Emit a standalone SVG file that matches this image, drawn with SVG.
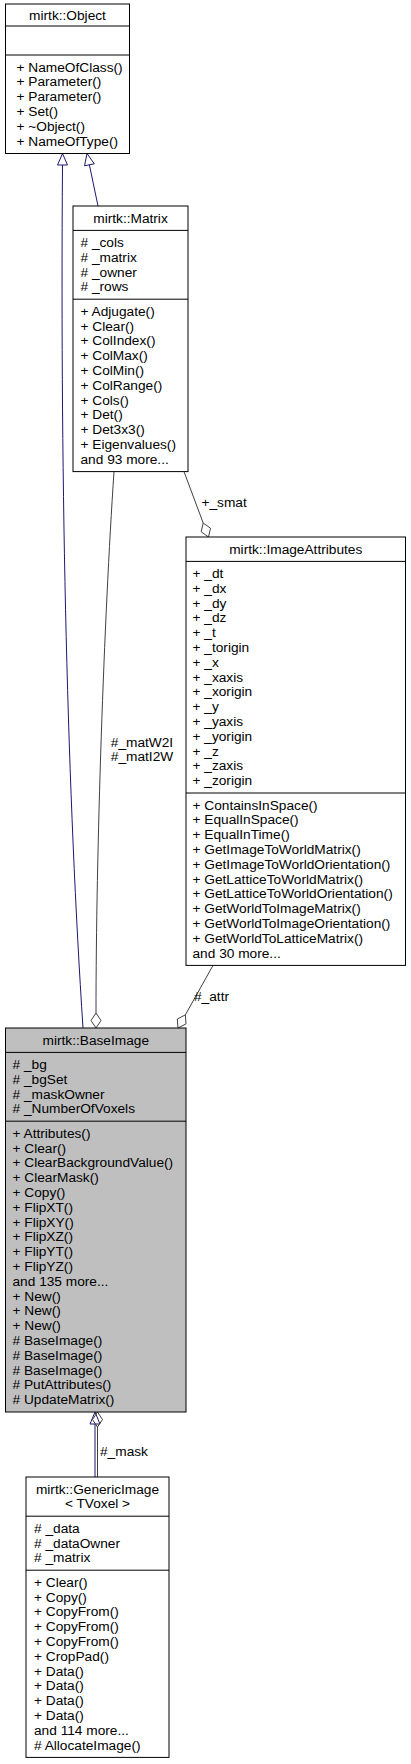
<svg xmlns="http://www.w3.org/2000/svg" width="411" height="1764" viewBox="0 0 411 1764">
<style>
.box{fill:#fff;stroke:#000;stroke-width:1}
.gray{fill:#bfbfbf}
.sep{stroke:#000;stroke-width:1}
.t{font-family:"Liberation Sans",Arial,Helvetica,sans-serif;font-size:13.7px;fill:#000}
.c{text-anchor:middle}
.inh{stroke:#191970;stroke-width:1;fill:none}
.agg{stroke:#404040;stroke-width:1;fill:none}
</style>
<rect width="411" height="1764" fill="#fff"/>
<g id="connectors">
  <path class="inh" d="M83,1028 C68,800 60,500 62.5,165"/>
  <polygon class="inh" points="62.5,153.5 67.5,165 57.5,165"/>
  <path class="inh" d="M98,206 L89.4,164.8"/>
  <polygon class="inh" points="87,153.5 94.3,163.8 84.5,165.8"/>
  <path class="agg" d="M114,471.6 C104,620 96,850 96,1013"/>
  <polygon class="agg" points="96,1028 101,1020.5 96,1013 91,1020.5"/>
  <text class="t c" x="142" y="747">#_matW2I</text>
  <text class="t c" x="142" y="761">#_matI2W</text>
  <path class="agg" d="M184,471.6 L203.2,523"/>
  <polygon class="agg" points="208.5,537 210.5,528.2 203.2,523 201.2,531.8"/>
  <text class="t" x="201.5" y="507">+_smat</text>
  <path class="agg" d="M213,965.4 L185.35,1014.9"/>
  <polygon class="agg" points="178,1028 186,1023.9 185.35,1014.9 177.3,1019"/>
  <text class="t" x="194" y="1001">#_attr</text>
  <path class="inh" d="M95,1477 L95,1424"/>
  <polygon class="inh" points="95,1412 100,1424 90,1424"/>
  <path class="agg" d="M97.5,1477 L97.5,1427"/>
  <polygon class="agg" points="97.5,1412 102.5,1419.5 97.5,1427 92.5,1419.5"/>
  <text class="t" x="100" y="1456">#_mask</text>
</g>
<g id="Object">
  <rect class="box" x="5.5" y="4" width="124" height="149.5"/>
  <line class="sep" x1="5.5" y1="26" x2="129.5" y2="26"/>
  <line class="sep" x1="5.5" y1="55" x2="129.5" y2="55"/>
  <text class="t c" x="67.5" y="20">mirtk::Object</text>
  <text class="t" x="16.5" y="71.5"><tspan x="16.5">+ NameOfClass()</tspan><tspan x="16.5" dy="14.8">+ Parameter()</tspan><tspan x="16.5" dy="14.8">+ Parameter()</tspan><tspan x="16.5" dy="14.8">+ Set()</tspan><tspan x="16.5" dy="14.8">+ ~Object()</tspan><tspan x="16.5" dy="14.8">+ NameOfType()</tspan></text>
</g>
<g id="Matrix">
  <rect class="box" x="73" y="206" width="115" height="265.6"/>
  <line class="sep" x1="73" y1="230.4" x2="188" y2="230.4"/>
  <line class="sep" x1="73" y1="299.2" x2="188" y2="299.2"/>
  <text class="t c" x="130.5" y="222.5">mirtk::Matrix</text>
  <text class="t" x="80.5" y="246.9"><tspan x="80.5"># _cols</tspan><tspan x="80.5" dy="14.8"># _matrix</tspan><tspan x="80.5" dy="14.8"># _owner</tspan><tspan x="80.5" dy="14.8"># _rows</tspan></text>
  <text class="t" x="80.5" y="315.7"><tspan x="80.5">+ Adjugate()</tspan><tspan x="80.5" dy="14.8">+ Clear()</tspan><tspan x="80.5" dy="14.8">+ ColIndex()</tspan><tspan x="80.5" dy="14.8">+ ColMax()</tspan><tspan x="80.5" dy="14.8">+ ColMin()</tspan><tspan x="80.5" dy="14.8">+ ColRange()</tspan><tspan x="80.5" dy="14.8">+ Cols()</tspan><tspan x="80.5" dy="14.8">+ Det()</tspan><tspan x="80.5" dy="14.8">+ Det3x3()</tspan><tspan x="80.5" dy="14.8">+ Eigenvalues()</tspan><tspan x="80.5" dy="14.8">and 93 more...</tspan></text>
</g>
<g id="ImageAttributes">
  <rect class="box" x="186" y="537" width="219.5" height="428.4"/>
  <line class="sep" x1="186" y1="561.4" x2="405.5" y2="561.4"/>
  <line class="sep" x1="186" y1="793" x2="405.5" y2="793"/>
  <text class="t c" x="295.75" y="553.5">mirtk::ImageAttributes</text>
  <text class="t" x="192.5" y="577.9"><tspan x="192.5">+ _dt</tspan><tspan x="192.5" dy="14.8">+ _dx</tspan><tspan x="192.5" dy="14.8">+ _dy</tspan><tspan x="192.5" dy="14.8">+ _dz</tspan><tspan x="192.5" dy="14.8">+ _t</tspan><tspan x="192.5" dy="14.8">+ _torigin</tspan><tspan x="192.5" dy="14.8">+ _x</tspan><tspan x="192.5" dy="14.8">+ _xaxis</tspan><tspan x="192.5" dy="14.8">+ _xorigin</tspan><tspan x="192.5" dy="14.8">+ _y</tspan><tspan x="192.5" dy="14.8">+ _yaxis</tspan><tspan x="192.5" dy="14.8">+ _yorigin</tspan><tspan x="192.5" dy="14.8">+ _z</tspan><tspan x="192.5" dy="14.8">+ _zaxis</tspan><tspan x="192.5" dy="14.8">+ _zorigin</tspan></text>
  <text class="t" x="192.5" y="809.5"><tspan x="192.5">+ ContainsInSpace()</tspan><tspan x="192.5" dy="14.8">+ EqualInSpace()</tspan><tspan x="192.5" dy="14.8">+ EqualInTime()</tspan><tspan x="192.5" dy="14.8">+ GetImageToWorldMatrix()</tspan><tspan x="192.5" dy="14.8">+ GetImageToWorldOrientation()</tspan><tspan x="192.5" dy="14.8">+ GetLatticeToWorldMatrix()</tspan><tspan x="192.5" dy="14.8">+ GetLatticeToWorldOrientation()</tspan><tspan x="192.5" dy="14.8">+ GetWorldToImageMatrix()</tspan><tspan x="192.5" dy="14.8">+ GetWorldToImageOrientation()</tspan><tspan x="192.5" dy="14.8">+ GetWorldToLatticeMatrix()</tspan><tspan x="192.5" dy="14.8">and 30 more...</tspan></text>
</g>
<g id="BaseImage">
  <rect class="box gray" x="5.5" y="1028" width="180.5" height="384"/>
  <line class="sep" x1="5.5" y1="1052.4" x2="186" y2="1052.4"/>
  <line class="sep" x1="5.5" y1="1121.2" x2="186" y2="1121.2"/>
  <text class="t c" x="95.75" y="1044.5">mirtk::BaseImage</text>
  <text class="t" x="12.5" y="1068.9"><tspan x="12.5"># _bg</tspan><tspan x="12.5" dy="14.8"># _bgSet</tspan><tspan x="12.5" dy="14.8"># _maskOwner</tspan><tspan x="12.5" dy="14.8"># _NumberOfVoxels</tspan></text>
  <text class="t" x="12.5" y="1137.7"><tspan x="12.5">+ Attributes()</tspan><tspan x="12.5" dy="14.8">+ Clear()</tspan><tspan x="12.5" dy="14.8">+ ClearBackgroundValue()</tspan><tspan x="12.5" dy="14.8">+ ClearMask()</tspan><tspan x="12.5" dy="14.8">+ Copy()</tspan><tspan x="12.5" dy="14.8">+ FlipXT()</tspan><tspan x="12.5" dy="14.8">+ FlipXY()</tspan><tspan x="12.5" dy="14.8">+ FlipXZ()</tspan><tspan x="12.5" dy="14.8">+ FlipYT()</tspan><tspan x="12.5" dy="14.8">+ FlipYZ()</tspan><tspan x="12.5" dy="14.8">and 135 more...</tspan><tspan x="12.5" dy="14.8">+ New()</tspan><tspan x="12.5" dy="14.8">+ New()</tspan><tspan x="12.5" dy="14.8">+ New()</tspan><tspan x="12.5" dy="14.8"># BaseImage()</tspan><tspan x="12.5" dy="14.8"># BaseImage()</tspan><tspan x="12.5" dy="14.8"># BaseImage()</tspan><tspan x="12.5" dy="14.8"># PutAttributes()</tspan><tspan x="12.5" dy="14.8"># UpdateMatrix()</tspan></text>
</g>
<g id="GenericImage">
  <rect class="box" x="26" y="1477" width="143" height="280.4"/>
  <line class="sep" x1="26" y1="1516.2" x2="169" y2="1516.2"/>
  <line class="sep" x1="26" y1="1570.2" x2="169" y2="1570.2"/>
  <text class="t c" x="97.5" y="1493.5">mirtk::GenericImage</text>
  <text class="t c" x="97.5" y="1508.3">&lt; TVoxel &gt;</text>
  <text class="t" x="34" y="1532.7"><tspan x="34"># _data</tspan><tspan x="34" dy="14.8"># _dataOwner</tspan><tspan x="34" dy="14.8"># _matrix</tspan></text>
  <text class="t" x="34" y="1586.7"><tspan x="34">+ Clear()</tspan><tspan x="34" dy="14.8">+ Copy()</tspan><tspan x="34" dy="14.8">+ CopyFrom()</tspan><tspan x="34" dy="14.8">+ CopyFrom()</tspan><tspan x="34" dy="14.8">+ CopyFrom()</tspan><tspan x="34" dy="14.8">+ CropPad()</tspan><tspan x="34" dy="14.8">+ Data()</tspan><tspan x="34" dy="14.8">+ Data()</tspan><tspan x="34" dy="14.8">+ Data()</tspan><tspan x="34" dy="14.8">+ Data()</tspan><tspan x="34" dy="14.8">and 114 more...</tspan><tspan x="34" dy="14.8"># AllocateImage()</tspan></text>
</g>
</svg>
